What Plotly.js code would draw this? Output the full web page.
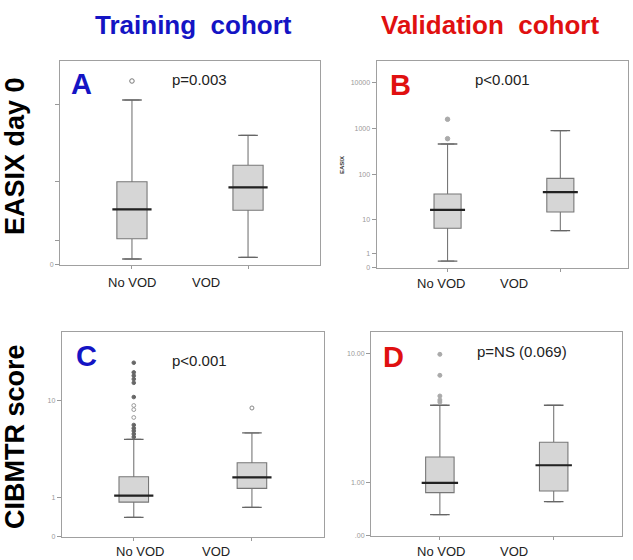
<!DOCTYPE html>
<html>
<head>
<meta charset="utf-8">
<script src="https://cdn.plot.ly/plotly-3.0.1.min.js"></script>
<style>html,body{margin:0;padding:0;background:#fff;}#chart{width:633px;height:560px;}</style>
</head>
<body>
<div id="chart"></div>
<script>
const groups = ["No VOD", "VOD"];

// Panel A: EASIX day 0, training cohort (linear axis, unlabelled units)
const aQ1 = [25.8, 54.2];
const aMed = [55.2, 77.2];
const aQ3 = [82.8, 99.2];
const aLo = [5.5, 7.2];
const aHi = [164.5, 129.2];
const aOutNoVOD = [183.5];
const aTicks = [0, 23.8, 82.8, 160.2];
const aTickText = ["0", "", "", ""];

// Panel B: EASIX day 0, validation cohort (log(x+1) axis)
const bQ1 = [6.05, 14.9];
const bMed = [16.6, 42];
const bQ3 = [38, 84];
const bLo = [0.38, 5.26];
const bHi = [470, 914];
const bOutNoVOD = [1614, 613];
const bTicks = [0, 1, 10, 100, 1000, 10000];
const bTickText = ["0", "1", "10", "100", "1000", "10000"];

// Panel C: CIBMTR score, training cohort
const cQ1 = [0.83, 1.33];
const cMed = [1.05, 1.83];
const cQ3 = [1.86, 2.66];
const cLo = [0.40, 0.67];
const cHi = [4.52, 5.17];
const cOutNoVODFilled = [20.2, 16.9, 15.9, 14.9, 13.9, 10.6, 6.1, 5.7, 5.4, 5.06, 4.75];
const cOutNoVODOpen = [9.0, 8.3, 7.1];
const cOutVOD = [8.57];
const cTicks = [0, 1, 10];
const cTickText = ["0", "1", "10"];

// Panel D: CIBMTR score, validation cohort
const dQ1 = [0.757, 0.796];
const dMed = [1.0, 1.52];
const dQ3 = [1.81, 2.41];
const dLo = [0.315, 0.56];
const dHi = [4.55, 4.55];
const dOutNoVOD = [9.85, 7.23, 5.27, 4.95, 4.79];
const dTicks = [0, 1, 10];
const dTickText = [".00", "1.00", "10.00"];

const lin = v => v;
const lg = v => Math.log10(v + 1);

const traces = [];
function addPanel(ax, f, q1, med, q3, lo, hi, boxW, medPx) {
  const xa = 'x' + ax, ya = 'y' + ax;
  traces.push({type: 'box', x: groups, q1: q1.map(f), median: med.map(f), q3: q3.map(f),
    lowerfence: lo.map(f), upperfence: hi.map(f), boxpoints: false, width: boxW,
    fillcolor: '#d6d6d6', line: {color: '#777', width: 1.1}, xaxis: xa, yaxis: ya,
    showlegend: false, hoverinfo: 'skip'});
  traces.push({type: 'scatter', mode: 'markers', x: groups.concat(groups),
    y: lo.concat(hi).map(f), xaxis: xa, yaxis: ya, showlegend: false, hoverinfo: 'skip',
    marker: {symbol: 'line-ew', size: 14, color: '#666', line: {color: '#666', width: 1.3}}});
  traces.push({type: 'scatter', mode: 'markers', x: groups, y: med.map(f), xaxis: xa, yaxis: ya,
    showlegend: false, hoverinfo: 'skip',
    marker: {symbol: 'line-ew', size: medPx, color: '#222', line: {color: '#222', width: 2.2}}});
}
function addOut(ax, f, grp, vals, open, col, sz) {
  traces.push({type: 'scatter', mode: 'markers', x: vals.map(() => grp), y: vals.map(f),
    xaxis: 'x' + ax, yaxis: 'y' + ax, showlegend: false, hoverinfo: 'skip',
    marker: {symbol: open ? 'circle-open' : 'circle', size: sz || 4.5, color: col,
      line: {color: col, width: 1}}});
}

addPanel('', lin, aQ1, aMed, aQ3, aLo, aHi, 0.26, 28);
addOut('', lin, "No VOD", aOutNoVOD, true, '#777');
addPanel('2', lg, bQ1, bMed, bQ3, bLo, bHi, 0.24, 25);
addOut('2', lg, "No VOD", bOutNoVOD, false, '#aaa');
addPanel('3', lg, cQ1, cMed, cQ3, cLo, cHi, 0.25, 28);
addOut('3', lg, "No VOD", cOutNoVODFilled, false, '#666', 3.6);
addOut('3', lg, "No VOD", cOutNoVODOpen, true, '#999', 3.8);
addOut('3', lg, "VOD", cOutVOD, true, '#888', 4);
addPanel('4', lg, dQ1, dMed, dQ3, dLo, dHi, 0.25, 26);
addOut('4', lg, "No VOD", dOutNoVOD, false, '#aaa', 4);

const W = 633, H = 560;
const px = x => x / W, py = y => 1 - y / H;
function xax(l, r, rng) {
  return {domain: [px(l), px(r)], type: 'category', range: rng, showline: true, mirror: true,
    linecolor: '#a0a0a0', linewidth: 1, ticks: 'outside', ticklen: 3, tickcolor: '#999',
    showticklabels: false, showgrid: false, zeroline: false, fixedrange: true};
}
function yax(t, b, rng, tv, tt) {
  return {domain: [py(b), py(t)], range: rng, showline: true, mirror: true, linecolor: '#a0a0a0',
    linewidth: 1, ticks: 'outside', ticklen: 4, tickcolor: '#999', tickvals: tv, ticktext: tt,
    tickfont: {size: 7, color: '#999', family: 'Liberation Sans, Arial, sans-serif'},
    showgrid: false, zeroline: false, fixedrange: true};
}

const F = 'Liberation Sans, Arial, sans-serif';
function ann(text, x, y, size, color, bold, angle) {
  return {text: bold ? '<b>' + text + '</b>' : text, x: px(x), y: py(y), xref: 'paper', yref: 'paper',
    xanchor: 'center', yanchor: 'middle', showarrow: false, textangle: angle || 0,
    font: {family: F, size: size, color: color}};
}
const blue = '#1414c4', red = '#e01010';
const annotations = [
  ann('Training&nbsp;&nbsp;cohort', 193, 25, 26, blue, true),
  ann('Validation&nbsp;&nbsp;cohort', 490, 25, 26, red, true),
  ann('EASIX day 0', 15, 156, 27, '#000', true, -90),
  ann('CIBMTR score', 15, 437, 27, '#000', true, -90),
  ann('A', 82, 84, 29, blue, true),
  ann('B', 400, 85, 29, red, true),
  ann('C', 86, 356, 29, blue, true),
  ann('D', 393, 357, 29, red, true),
  ann('p=0.003', 199, 80, 15, '#222'),
  ann('p<0.001', 502, 80, 15, '#222'),
  ann('p<0.001', 199, 360, 15, '#222'),
  ann('p=NS (0.069)', 522, 351, 15, '#222'),
  ann('EASIX', 342, 165, 6, '#333', true, -90),
  ann(groups[0], 132, 282, 13, '#222'),
  ann(groups[1], 206, 282, 13, '#222'),
  ann(groups[0], 441, 283, 13, '#222'),
  ann(groups[1], 514, 283, 13, '#222'),
  ann(groups[0], 140, 551, 13, '#222'),
  ann(groups[1], 216, 551, 13, '#222'),
  ann(groups[0], 441, 551, 13, '#222'),
  ann(groups[1], 514, 551, 13, '#222')
];

const layout = {
  width: W, height: H, margin: {l: 0, r: 0, t: 0, b: 0},
  paper_bgcolor: '#fff', plot_bgcolor: '#fff', showlegend: false,
  font: {family: F},
  xaxis: Object.assign(xax(60, 320, [-0.62, 1.62]), {anchor: 'y'}),
  yaxis: Object.assign(yax(60.7, 264.5, [0, 203.8], aTicks, aTickText), {anchor: 'x'}),
  xaxis2: Object.assign(xax(376.5, 628, [-0.63, 1.6]), {anchor: 'y2'}),
  yaxis2: Object.assign(yax(60.7, 267.5, [0, 4.476], bTicks.map(lg), bTickText), {anchor: 'x2'}),
  xaxis3: Object.assign(xax(61.7, 324, [-0.61, 1.61]), {anchor: 'y3'}),
  yaxis3: Object.assign(yax(332, 536.5, [0, 1.561], cTicks.map(lg), cTickText), {anchor: 'x3'}),
  xaxis4: Object.assign(xax(371, 622, [-0.605, 1.6]), {anchor: 'y4'}),
  yaxis4: Object.assign(yax(332, 535.5, [0, 1.163], dTicks.map(lg), dTickText), {anchor: 'x4'}),
  annotations: annotations
};

Plotly.newPlot('chart', traces, layout, {staticPlot: true, displayModeBar: false});
</script>
</body>
</html>
